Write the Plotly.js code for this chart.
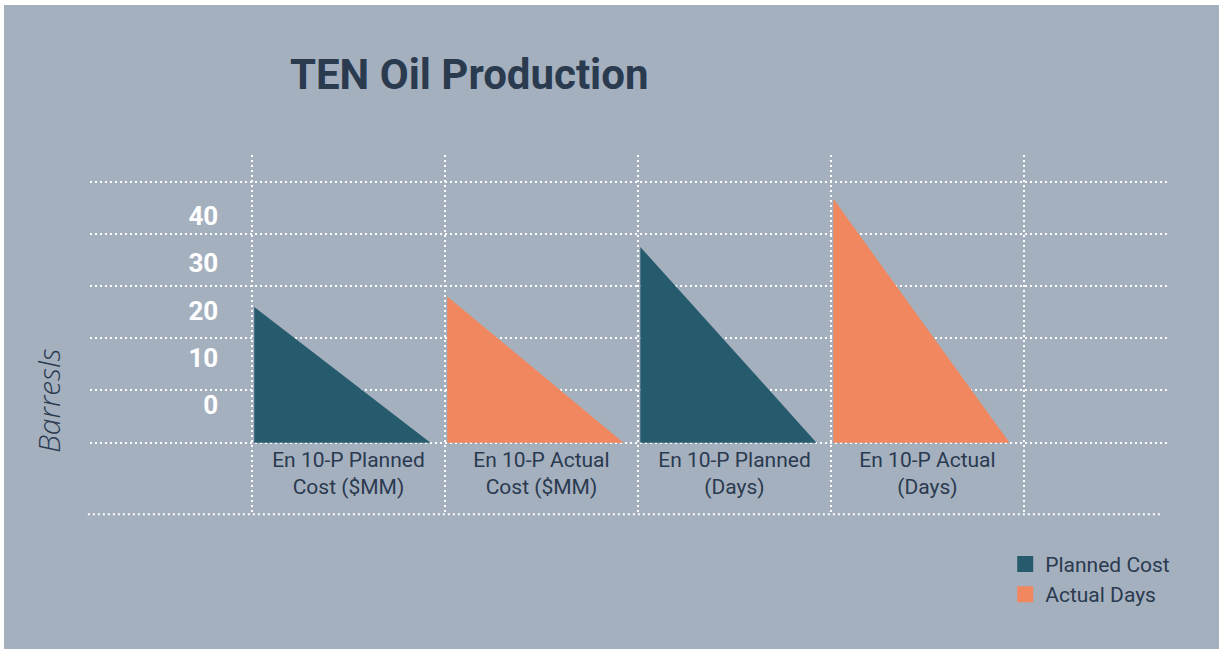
<!DOCTYPE html>
<html>
<head>
<meta charset="utf-8">
<script src="https://cdn.plot.ly/plotly-3.0.1.min.js"></script>
<style>
  html, body { margin: 0; padding: 0; background: #ffffff; }
  #chart { width: 1223px; height: 653px; }
</style>
</head>
<body>
<div id="chart"></div>
<script>
// ---- data ----
const categories = [
  "En 10-P Planned<br>Cost ($MM)",
  "En 10-P Actual<br>Cost ($MM)",
  "En 10-P Planned<br>(Days)",
  "En 10-P Actual<br>(Days)"
];
const values = [26, 28, 37.5, 46.7];
const seriesOf = ["Planned Cost", "Actual Days", "Planned Cost", "Actual Days"];
const seriesNames = ["Planned Cost", "Actual Days"];
const seriesColors = {"Planned Cost": "#265b6e", "Actual Days": "#f0875f"};
const gridVals = [0, 10, 20, 30, 40, 50];
const labelVals = [0, 10, 20, 30, 40];

// ---- styling constants ----
const BG = "#a5b0bf";
const TEXT = "#2a3a4f";
const FONT = "Roboto, 'DejaVu Sans', sans-serif";
const DOT = "2px,3px";
const TRI_START = 0.012;
const TRI_END = 0.925;

const traces = [];
categories.forEach((c, i) => {
  traces.push({
    type: "scatter",
    mode: "lines",
    x: [i + TRI_START, i + TRI_START, i + TRI_END, i + TRI_START],
    y: [0, values[i], 0, 0],
    fill: "toself",
    fillcolor: seriesColors[seriesOf[i]],
    line: {width: 0, color: seriesColors[seriesOf[i]]},
    name: seriesOf[i],
    legendgroup: seriesOf[i],
    showlegend: false,
    hoverinfo: "skip"
  });
});
// legend entries (square swatches)
seriesNames.forEach((s) => {
  traces.push({
    type: "scatter",
    mode: "markers",
    x: [null],
    y: [null],
    name: s,
    legendgroup: s,
    showlegend: true,
    marker: {symbol: "square", size: 18, color: seriesColors[s]}
  });
});
// empty trace so the label axis (yaxis2) is drawn
traces.push({
  type: "scatter", mode: "markers", x: [null], y: [null],
  yaxis: "y2", showlegend: false, hoverinfo: "skip"
});

const layout = {
  width: 1223,
  height: 653,
  margin: {l: 90, r: 55, t: 155, b: 138},
  paper_bgcolor: "#ffffff",
  plot_bgcolor: "rgba(0,0,0,0)",
  font: {family: FONT, color: TEXT},
  showlegend: true,
  title: {
    text: "<b>TEN Oil Production</b>",
    font: {family: FONT, size: 42, color: TEXT},
    xref: "container",
    x: 0.2371,
    xanchor: "left",
    y: 0.886,
    yanchor: "middle"
  },
  xaxis: {
    range: [-0.839, 4.746],
    tickmode: "array",
    tickvals: categories.map((c, i) => i + 0.5),
    ticktext: categories,
    tickfont: {family: FONT, size: 21, color: TEXT},
    showgrid: false,
    zeroline: false,
    showline: false,
    ticks: "",
    ticklabelstandoff: 2,
    anchor: "free",
    position: 0.2,
    minor: {
      tickmode: "array",
      tickvals: [0, 1, 2, 3, 4],
      showgrid: true,
      gridcolor: "#ffffff",
      gridwidth: 2,
      griddash: DOT,
      ticks: ""
    },
    fixedrange: true
  },
  yaxis: {
    range: [-13.85, 55.1],
    tickmode: "array",
    tickvals: gridVals,
    showticklabels: false,
    showgrid: true,
    gridcolor: "#ffffff",
    gridwidth: 2,
    griddash: DOT,
    zeroline: false,
    showline: false,
    ticks: "",
    fixedrange: true
  },
  yaxis2: {
    overlaying: "y",
    anchor: "free",
    position: 0.119,
    side: "left",
    range: [-23.25, 52.85],
    tickmode: "array",
    tickvals: labelVals,
    ticktext: labelVals.map(String),
    tickfont: {family: FONT, size: 26, color: "#ffffff", weight: "bold"},
    showgrid: false,
    zeroline: false,
    showline: false,
    ticks: "",
    fixedrange: true
  },
  legend: {
    x: 0.849,
    xanchor: "left",
    y: -0.08,
    yanchor: "top",
    bgcolor: "rgba(0,0,0,0)",
    font: {family: FONT, size: 21, color: TEXT},
    traceorder: "grouped",
    tracegroupgap: 0,
    itemclick: false
  },
  shapes: [
    {type: "rect", xref: "paper", yref: "paper", layer: "below",
     x0: -0.0798, x1: 1.0473, y0: -0.372, y1: 1.4167,
     fillcolor: BG, line: {width: 0}},
    {type: "line", xref: "paper", yref: "paper", layer: "below",
     x0: -0.002, x1: 0.994, y0: 0.002, y1: 0.002,
     line: {color: "#ffffff", width: 2, dash: DOT}}
  ],
  annotations: [
    {text: "Barresls", xref: "paper", yref: "paper",
     x: -0.039, y: 0.319, xanchor: "center", yanchor: "middle",
     textangle: -90, showarrow: false,
     font: {family: "'Open Sans', sans-serif", size: 30, color: TEXT, style: "italic", weight: 300}}
  ]
};

Plotly.newPlot("chart", traces, layout, {staticPlot: true, displayModeBar: false});
</script>
</body>
</html>
